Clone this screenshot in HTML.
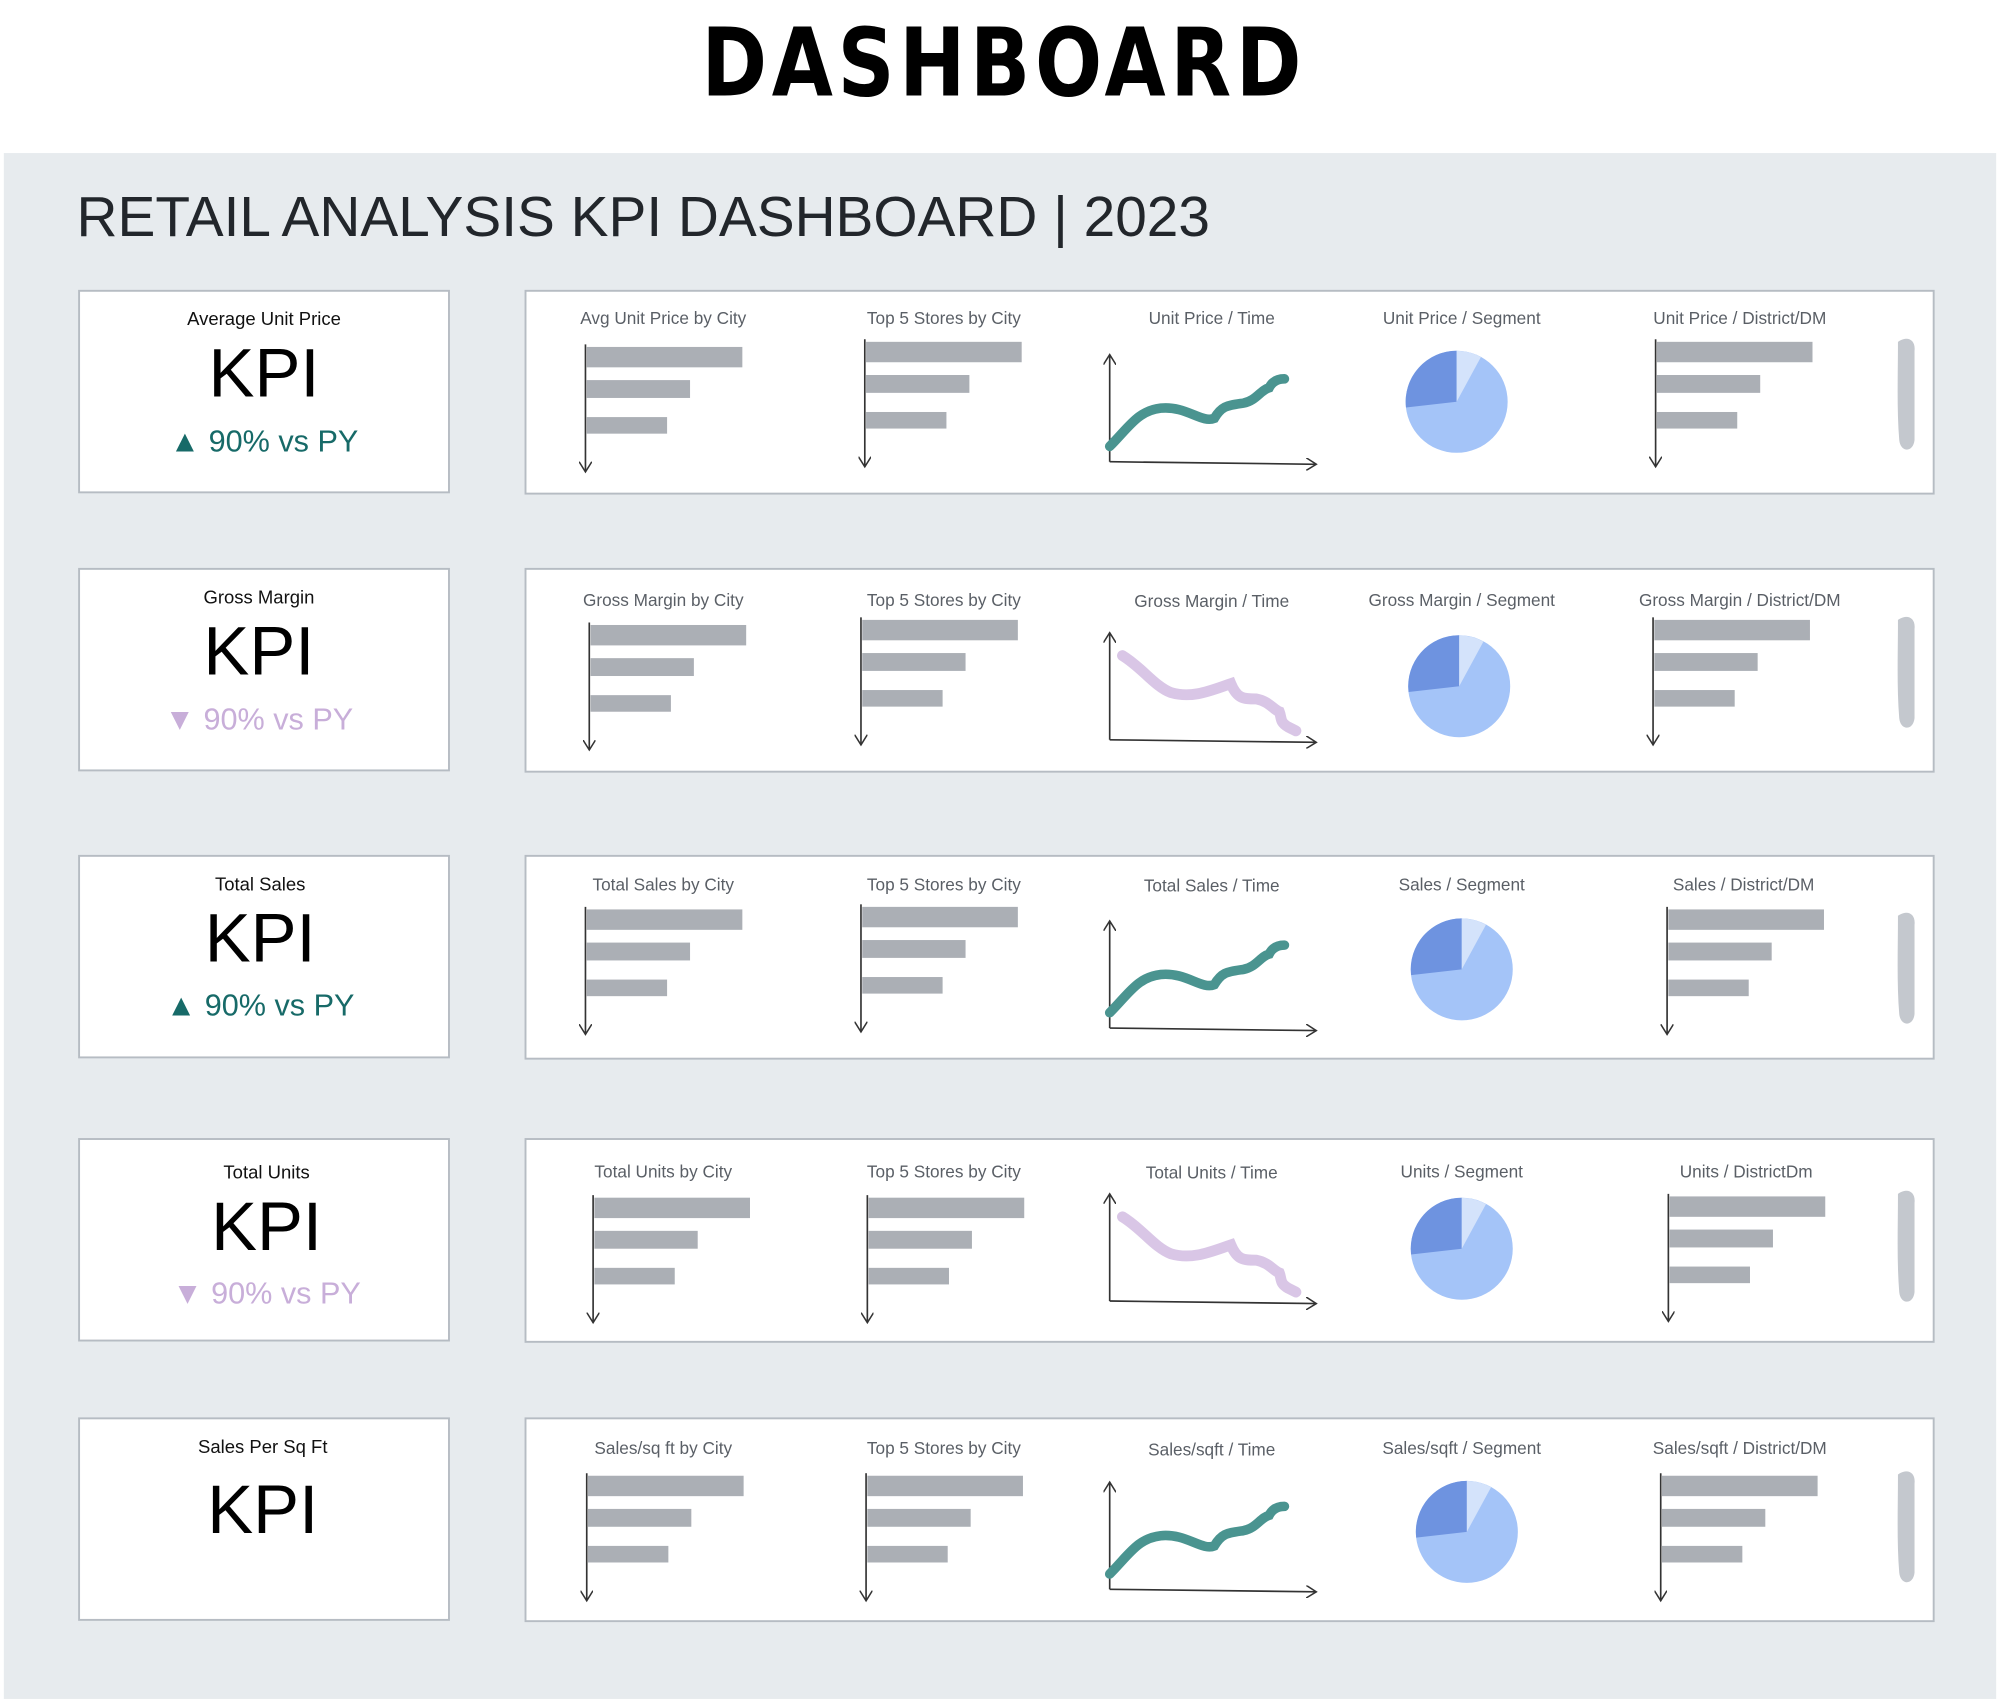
<!DOCTYPE html>
<html><head><meta charset="utf-8"><style>
html,body{margin:0;padding:0;background:#fff;}
svg{display:block;}
text{font-family:"Liberation Sans",sans-serif;}
</style></head><body>
<svg width="2000" height="1701" viewBox="0 0 1568 1333.6" preserveAspectRatio="none" xmlns="http://www.w3.org/2000/svg">
<defs>
<marker id="ar" markerWidth="10" markerHeight="10" refX="8" refY="5" orient="auto" markerUnits="userSpaceOnUse">
<path d="M0,0 L8,5 L0,10" fill="none" stroke="#333" stroke-width="1.2"/></marker>
<g id="bars">
<rect x="1" y="2" width="122" height="16" fill="#abafb5"/>
<rect x="1" y="28" width="81" height="14" fill="#abafb5"/>
<rect x="1" y="57" width="63" height="13" fill="#abafb5"/>
<line x1="0" y1="0" x2="0" y2="100" stroke="#333" stroke-width="1.3" marker-end="url(#ar)"/>
</g>
<g id="axes">
<line x1="870" y1="362" x2="870" y2="278" stroke="#333" stroke-width="1.3" marker-end="url(#ar)"/>
<line x1="870" y1="362" x2="1032" y2="364" stroke="#333" stroke-width="1.3" marker-end="url(#ar)"/>
</g>
<g id="up"><use href="#axes"/>
<path d="M870,350 C885,335 892,322 910,320 C930,318 942,332 952,328 C958,318 962,318 975,316 C985,314 988,306 995,304 C998,298 1003,297 1007,297" fill="none" stroke="#4a9490" stroke-width="7.5" stroke-linecap="round"/></g>
<g id="down"><use href="#axes" transform="translate(0,0)"/>
<path d="M880,296 C895,305 905,320 918,325 C935,330 950,323 965,318 C970,330 975,330 985,330 C995,332 998,338 1003,340 C1005,345 1003,348 1010,352 L1016,355" fill="none" stroke="#d9c6e6" stroke-width="8.5" stroke-linecap="round"/></g>
<g id="pie">
<circle cx="0" cy="0" r="40" fill="#a4c4f8"/>
<path d="M0,0 L-39.7,4.5 A40,40 0 0 1 0,-40 Z" fill="#6e93e0"/>
<path d="M0,0 L0,-40 A40,40 0 0 1 19,-35 Z" fill="#d4e3fb"/>
</g>
<g id="blob"><path d="M1488,268 C1495,263 1502,266 1501,275 L1501,345 C1500,355 1490,355 1489,345 C1487,320 1488,295 1488,268Z" fill="#c4c8ce"/></g>
</defs>
<rect x="0" y="0" width="1568" height="1334" fill="#fff"/>
<text x="787" y="75" text-anchor="middle" font-size="74" font-weight="bold" transform="translate(787,0) scale(0.93,1) translate(-787,0)" style="font-family:'DejaVu Sans Condensed','Liberation Sans',sans-serif;letter-spacing:4px" fill="#000">DASHBOARD</text>
<rect x="3" y="120" width="1562" height="1212" fill="#e7ebee"/>
<text x="60" y="185" font-size="44.5" fill="#22262b">RETAIL ANALYSIS KPI DASHBOARD | 2023</text>

<g fill="#fff" stroke="#b6bcc3" stroke-width="1.5">
<rect x="62" y="228" width="290" height="158"/><rect x="412" y="228" width="1104" height="159"/>
<rect x="62" y="446" width="290" height="158"/><rect x="412" y="446" width="1104" height="159"/>
<rect x="62" y="671" width="290" height="158"/><rect x="412" y="671" width="1104" height="159"/>
<rect x="62" y="893" width="290" height="158"/><rect x="412" y="893" width="1104" height="159"/>
<rect x="62" y="1112" width="290" height="158"/><rect x="412" y="1112" width="1104" height="159"/>
</g>

<g font-size="14.5" fill="#111" text-anchor="middle">
<text x="207" y="255">Average Unit Price</text>
<text x="203" y="473">Gross Margin</text>
<text x="204" y="698">Total Sales</text>
<text x="209" y="924">Total Units</text>
<text x="206" y="1139">Sales Per Sq Ft</text>
</g>
<g font-size="54" fill="#000" text-anchor="middle">
<text x="207" y="311">KPI</text>
<text x="203" y="529">KPI</text>
<text x="204" y="754">KPI</text>
<text x="209" y="980">KPI</text>
<text x="206" y="1202">KPI</text>
</g>
<g font-size="24" text-anchor="middle">
<text x="207" y="354" fill="#176a68">▲ 90% vs PY</text>
<text x="203" y="572" fill="#c8aed9">▼ 90% vs PY</text>
<text x="204" y="796" fill="#176a68">▲ 90% vs PY</text>
<text x="209" y="1022" fill="#c8aed9">▼ 90% vs PY</text>
</g>

<g font-size="13.5" fill="#5a5f66" text-anchor="middle">
<text x="520" y="254">Avg Unit Price by City</text><text x="740" y="254">Top 5 Stores by City</text><text x="950" y="254">Unit Price / Time</text><text x="1146" y="254">Unit Price / Segment</text><text x="1364" y="254">Unit Price / District/DM</text>
<text x="520" y="475">Gross Margin by City</text><text x="740" y="475">Top 5 Stores by City</text><text x="950" y="476">Gross Margin / Time</text><text x="1146" y="475">Gross Margin / Segment</text><text x="1364" y="475">Gross Margin / District/DM</text>
<text x="520" y="698">Total Sales by City</text><text x="740" y="698">Top 5 Stores by City</text><text x="950" y="699">Total Sales / Time</text><text x="1146" y="698">Sales / Segment</text><text x="1367" y="698">Sales / District/DM</text>
<text x="520" y="923">Total Units by City</text><text x="740" y="923">Top 5 Stores by City</text><text x="950" y="924">Total Units / Time</text><text x="1146" y="923">Units / Segment</text><text x="1369" y="923">Units / DistrictDm</text>
<text x="520" y="1140">Sales/sq ft by City</text><text x="740" y="1140">Top 5 Stores by City</text><text x="950" y="1141">Sales/sqft / Time</text><text x="1146" y="1140">Sales/sqft / Segment</text><text x="1364" y="1140">Sales/sqft / District/DM</text>
</g>

<use href="#bars" transform="translate(459,270)"/>
<use href="#bars" transform="translate(678,266)"/>
<use href="#up"/>
<use href="#pie" transform="translate(1142,315)"/>
<use href="#bars" transform="translate(1298,266)"/>
<use href="#blob"/>

<use href="#bars" transform="translate(462,488)"/>
<use href="#bars" transform="translate(675,484)"/>
<use href="#down" transform="translate(0,218)"/>
<use href="#pie" transform="translate(1144,538)"/>
<use href="#bars" transform="translate(1296,484)"/>
<use href="#blob" transform="translate(0,218)"/>

<use href="#bars" transform="translate(459,711)"/>
<use href="#bars" transform="translate(675,709)"/>
<use href="#up" transform="translate(0,444)"/>
<use href="#pie" transform="translate(1146,760)"/>
<use href="#bars" transform="translate(1307,711)"/>
<use href="#blob" transform="translate(0,450)"/>

<use href="#bars" transform="translate(465,937)"/>
<use href="#bars" transform="translate(680,937)"/>
<use href="#down" transform="translate(0,658)"/>
<use href="#pie" transform="translate(1146,979)"/>
<use href="#bars" transform="translate(1308,936)"/>
<use href="#blob" transform="translate(0,668)"/>

<use href="#bars" transform="translate(460,1155)"/>
<use href="#bars" transform="translate(679,1155)"/>
<use href="#up" transform="translate(0,884)"/>
<use href="#pie" transform="translate(1150,1201)"/>
<use href="#bars" transform="translate(1302,1155)"/>
<use href="#blob" transform="translate(0,888)"/>
</svg>
</body></html>
